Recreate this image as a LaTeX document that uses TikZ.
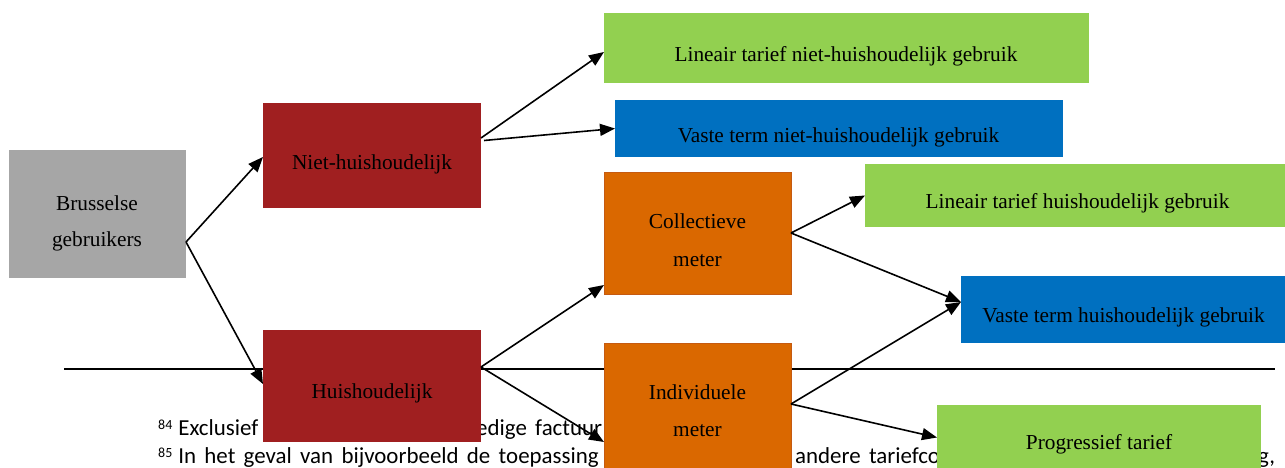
\documentclass[tikz,border=0pt]{standalone}
\usepackage{fontspec}
\setmainfont{Liberation Serif}
\newfontfamily\fnfont{Carlito}
\newcommand\myfnspace{\spaceskip=8.3bp\relax}
\usetikzlibrary{arrows.meta}
\definecolor{cgray}{HTML}{A6A6A6}
\definecolor{cred}{HTML}{A01F20}
\definecolor{cgreen}{HTML}{92D050}
\definecolor{cblue}{HTML}{0070C0}
\definecolor{corange}{HTML}{DA6800}
\definecolor{cborder}{HTML}{C55A11}
\begin{document}
\begin{tikzpicture}[x=1bp,y=-1bp,
  box/.style={draw=none,inner sep=0,outer sep=0},
  obox/.style={box,fill=corange,draw=cborder,line width=0.8bp},
  lbl/.style={inner sep=0,anchor=base,font=\fontsize{21.4}{25}\selectfont},
  fn/.style={inner sep=0,anchor=base west,font=\fnfont\fontsize{23}{27}\selectfont},
  arr/.style={-{Triangle[length=15bp,width=12bp]},line width=1.6bp,black},
  rule/.style={line width=1.8bp,black}]
\useasboundingbox (0,0) rectangle (1285,468);
% footnote separator and text (behind the boxes)
\coordinate (ruleL) at (64,369);
\coordinate (ruleR) at (1275,369);
\draw[rule] (ruleL) -- (ruleR);
\node[fn] (fnA) at (158,436) {\raisebox{6bp}{\fontsize{14}{14}\selectfont 84}\hspace{6bp}Exclusief};
\node[fn] (fnB) at (476,436) {\myfnspace edige factuur};
\node[fn] (fnC) at (158,464) {\myfnspace\raisebox{6bp}{\fontsize{14}{14}\selectfont 85}\hspace{6bp}In het geval van bijvoorbeeld de toepassing};
\node[fn] (fnD) at (795,464) {\myfnspace andere tariefco};
\node[fn] (fnE) at (1258,464) {g,};
% boxes
\node[box,fill=cgray,minimum width=177bp,minimum height=128bp] (bru) at (97.5,214) {};
\node[box,fill=cred,minimum width=218bp,minimum height=105bp] (niet) at (372,155.5) {};
\node[box,fill=cred,minimum width=218bp,minimum height=112bp] (huis) at (372,386) {};
\node[box,fill=cgreen,minimum width=485bp,minimum height=70bp] (lnh) at (846.5,48) {};
\node[box,fill=cblue,minimum width=448bp,minimum height=57bp] (vnh) at (839,128.5) {};
\node[obox,minimum width=187bp,minimum height=122bp] (coll) at (697.5,233) {};
\node[obox,minimum width=187bp,minimum height=127bp] (ind) at (697.5,406.5) {};
\node[box,fill=cgreen,minimum width=424bp,minimum height=63bp] (lh) at (1077,195.5) {};
\node[box,fill=cblue,minimum width=325bp,minimum height=67bp] (vh) at (1123.5,309.5) {};
\node[box,fill=cgreen,minimum width=324bp,minimum height=65bp] (prog) at (1099,437.5) {};
% texts
\node[lbl] (tbru1) at (97,210.5) {Brusselse};
\node[lbl] (tbru2) at (97,246.5) {gebruikers};
\node[lbl] (tniet) at (372,170) {Niet-huishoudelijk};
\node[lbl] (thuis) at (372,399) {Huishoudelijk};
\node[lbl] (tlnh) at (846,62) {Lineair tarief niet-huishoudelijk gebruik};
\node[lbl] (tvnh) at (838.5,143) {Vaste term niet-huishoudelijk gebruik};
\node[lbl] (tcoll1) at (697.5,229) {Collectieve};
\node[lbl] (tcoll2) at (697.5,267) {meter};
\node[lbl] (tind1) at (697.5,400) {Individuele};
\node[lbl] (tind2) at (697.5,437) {meter};
\node[lbl] (tlh) at (1077.5,209) {Lineair tarief huishoudelijk gebruik};
\node[lbl] (tvh) at (1123.5,323) {Vaste term huishoudelijk gebruik};
\node[lbl] (tprog) at (1099,450) {Progressief tarief};
% connectors
\draw[arr] ([yshift=-28bp]bru.east) -- ([yshift=-1.5bp]niet.west);
\draw[arr] ([yshift=-28bp]bru.east) -- ([yshift=2bp]huis.west);
\draw[arr] ([yshift=17.5bp]niet.east) -- ([yshift=-4bp]lnh.west);
\draw[arr] ([xshift=3bp,yshift=15bp]niet.east) -- (vnh.west);
\draw[arr] ([yshift=19bp]huis.east) -- ([yshift=9bp]coll.south west);
\draw[arr] ([yshift=19bp]huis.east) -- ([yshift=-35.5bp]ind.west);
\draw[arr] (coll.east) -- (lh.west);
\draw[arr] (coll.east) -- ([yshift=7.5bp]vh.west);
\draw[arr] ([yshift=2.5bp]ind.east) -- ([yshift=7.5bp]vh.west);
\draw[arr] ([yshift=2.5bp]ind.east) -- (prog.west);
\end{tikzpicture}
\end{document}
